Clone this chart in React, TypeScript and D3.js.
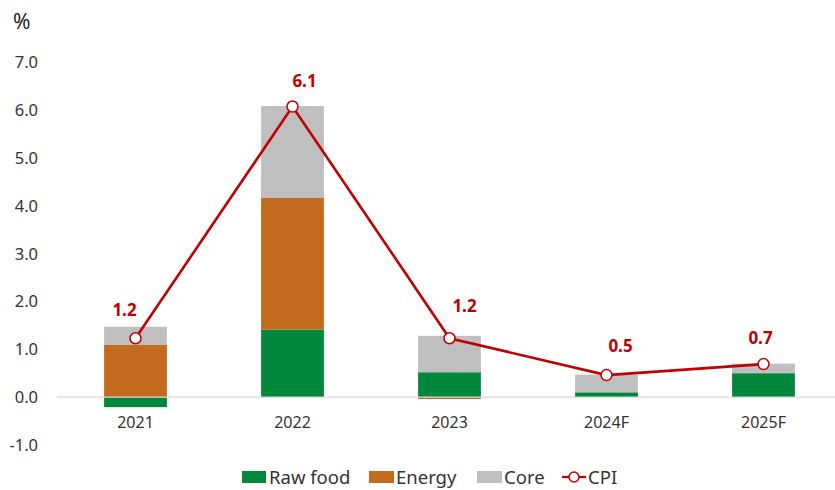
import React from "react";
import * as d3 from "d3";

const years = ["2021", "2022", "2023", "2024F", "2025F"];
const rawFood = [-0.21, 1.41, 0.52, 0.1, 0.5];
const energy = [1.09, 2.75, -0.04, 0, 0];
const core = [0.38, 1.92, 0.76, 0.37, 0.2];
const cpi = [1.23, 6.07, 1.23, 0.46, 0.69];
const yTicks = [-1, 0, 1, 2, 3, 4, 5, 6, 7];
const labelDx = [-11, 12, 15, 14, -3];
const labelDy = [-22, -20, -26, -23, -20];

const seriesNames = ["Raw food", "Energy", "Core"];
const colors = ["#00873e", "#c36b1e", "#bfbfbf"];
const red = "#c00000";
const font = "'Noto Sans', sans-serif";

export default function App() {
  const W = 835, H = 490;
  const x = d3.scaleBand<string>().domain(years).range([57, 842]).paddingInner(0.6).paddingOuter(0.3);
  const y = d3.scaleLinear().domain([-1, 7]).range([445, 62]);

  const rows = years.map((yr, i) => ({ year: yr, "Raw food": rawFood[i], Energy: energy[i], Core: core[i] }));
  const stack = d3.stack<any>().keys(seriesNames).offset(d3.stackOffsetDiverging);
  const stacked = stack(rows);

  const cx = (i: number) => (x(years[i]) as number) + x.bandwidth() / 2;
  const line = d3.line<number>().x((_, i) => cx(i)).y((d) => y(d));

  return (
    <svg width={W} height={H} style={{ position: "absolute", left: 0, top: 0 }} fontFamily={font}>
      <rect width={W} height={H} fill="#fff" />
      <text x={13} y={29} fontSize={21} fill="#222">%</text>
      {yTicks.map((t) => (
        <text key={t} x={38} y={y(t) + 6} textAnchor="end" fontSize={16.5} fill="#333">
          {t.toFixed(1)}
        </text>
      ))}
      {stacked.map((s, si) => (
        <g key={s.key}>
          {s.map((d, i) => {
            const y0 = y(d[0]), y1 = y(d[1]);
            const h = Math.abs(y0 - y1);
            if (h < 0.01) return null;
            return (
              <rect key={i} x={x(years[i])} width={x.bandwidth()} y={Math.min(y0, y1)} height={h} fill={colors[si]} />
            );
          })}
        </g>
      ))}
      <line x1={57} x2={835} y1={y(0)} y2={y(0)} stroke="#d9d9d9" strokeWidth={1.2} />
      {years.map((yr, i) => (
        <text key={yr} x={cx(i)} y={428} textAnchor="middle" fontSize={16} fill="#333">{yr}</text>
      ))}
      <path d={line(cpi) || ""} fill="none" stroke={red} strokeWidth={2.6} />
      {cpi.map((v, i) => (
        <g key={i}>
          <circle cx={cx(i)} cy={y(v)} r={5.5} fill="#fff" stroke={red} strokeWidth={1.5} />
          <text x={cx(i) + labelDx[i]} y={y(v) + labelDy[i]} textAnchor="middle" fontSize={17} fontWeight="bold" fill={red}>
            {v.toFixed(1)}
          </text>
        </g>
      ))}
      <g fontSize={18.5} fill="#333">
        <rect x={242} y={471} width={24} height={12} fill={colors[0]} />
        <text x={269} y={484}>Raw food</text>
        <rect x={369} y={471} width={25} height={12} fill={colors[1]} />
        <text x={396} y={484}>Energy</text>
        <rect x={477} y={471} width={25} height={12} fill={colors[2]} />
        <text x={504} y={484}>Core</text>
        <line x1={562} x2={586} y1={477} y2={477} stroke={red} strokeWidth={2.2} />
        <circle cx={574} cy={477} r={5} fill="#fff" stroke={red} strokeWidth={1.5} />
        <text x={588} y={484}>CPI</text>
      </g>
    </svg>
  );
}
